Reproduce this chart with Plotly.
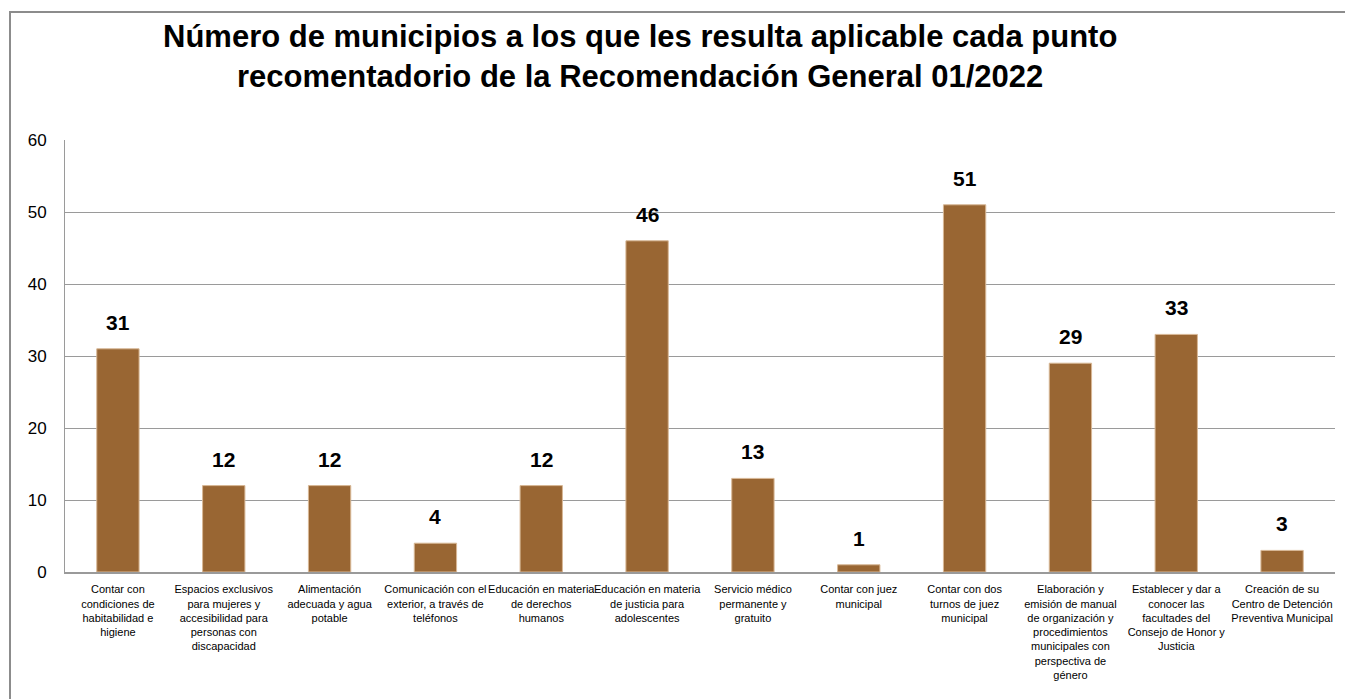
import plotly.graph_objects as go

# categories (recommendation points) and number of municipalities
categories = [
    "Contar con<br>condiciones de<br>habitabilidad e<br>higiene",
    "Espacios exclusivos<br>para mujeres y<br>accesibilidad para<br>personas con<br>discapacidad",
    "Alimentación<br>adecuada y agua<br>potable",
    "Comunicación con el<br>exterior, a través de<br>teléfonos",
    "Educación en materia<br>de derechos<br>humanos",
    "Educación en materia<br>de justicia para<br>adolescentes",
    "Servicio médico<br>permanente y<br>gratuito",
    "Contar con juez<br>municipal",
    "Contar con dos<br>turnos de juez<br>municipal",
    "Elaboración y<br>emisión de manual<br>de organización y<br>procedimientos<br>municipales con<br>perspectiva de<br>género",
    "Establecer y dar a<br>conocer las<br>facultades del<br>Consejo de Honor y<br>Justicia",
    "Creación de su<br>Centro de Detención<br>Preventiva Municipal",
]
municipios = [31, 12, 12, 4, 12, 46, 13, 1, 51, 29, 33, 3]
y_ticks = [0, 10, 20, 30, 40, 50, 60]

BAR_COLOR = "#996633"
NARROW = "Liberation Sans Narrow, Arial Narrow, Liberation Sans, Arial"

fig = go.Figure(
    go.Bar(
        x=categories,
        y=municipios,
        marker_color=BAR_COLOR,
        marker_line=dict(color="#d8b896", width=1),
        hoverinfo="skip",
    )
)

# value labels above the bars
for cat, val in zip(categories, municipios):
    fig.add_annotation(
        x=cat, y=val, text=f"<b>{val}</b>", showarrow=False,
        yanchor="bottom", yshift=13,
        font=dict(family=NARROW, size=21, color="#000000"),
    )

# two-line title
fig.add_annotation(
    x=(640 - 65) / 1270, xref="paper", y=(572 - 56) / 432, yref="paper",
    text="<b>Número de municipios a los que les resulta aplicable cada punto<br>"
         "recomentadorio de la Recomendación General 01/2022</b>",
    showarrow=False, xanchor="center", yanchor="middle",
    font=dict(family="Liberation Sans, Arial", size=31, color="#000000"),
)

# outer chart border
fig.add_shape(
    type="rect", xref="paper", yref="paper",
    x0=(10 - 65) / 1270, x1=(1360 - 65) / 1270,
    y0=(572 - 720) / 432, y1=(572 - 12) / 432,
    line=dict(color="#8c8c8c", width=2), fillcolor="rgba(0,0,0,0)",
)

fig.update_layout(
    width=1345,
    height=699,
    margin=dict(l=65, r=10, t=140, b=127, autoexpand=False),
    plot_bgcolor="white",
    paper_bgcolor="white",
    bargap=0.6,
    showlegend=False,
    font=dict(family=NARROW, color="#000000"),
)
fig.update_yaxes(
    range=[0, 60],
    tickvals=y_ticks,
    tickfont=dict(size=17, color="#000000"),
    gridcolor="#9a9a9a",
    gridwidth=1,
    showline=True,
    linecolor="#9a9a9a",
    linewidth=1,
    zeroline=False,
    ticks="",
    ticklabelstandoff=14,
)
fig.update_xaxes(
    tickfont=dict(size=11, color="#000000"),
    tickangle=0,
    showline=True,
    linecolor="#9a9a9a",
    linewidth=2,
    ticks="",
    ticklabelstandoff=6,
)

fig.write_html(
    "out.html",
    config={"displayModeBar": False},
    post_script="document.body.style.margin='0px';",
)
